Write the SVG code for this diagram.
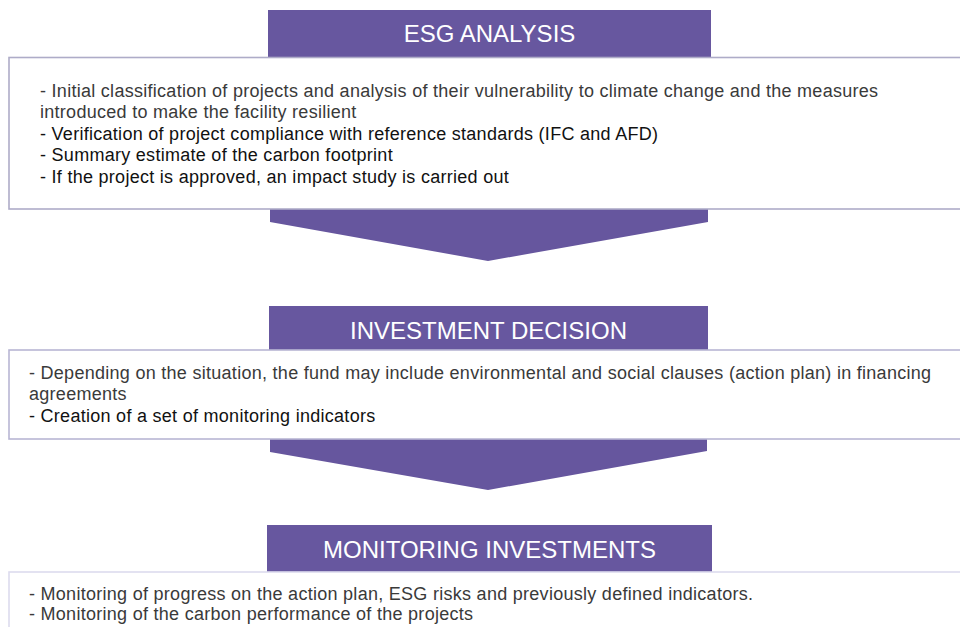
<svg xmlns="http://www.w3.org/2000/svg" width="960" height="627" viewBox="0 0 960 627">
<style>
.hdr{fill:#67579f}
.chev{fill:#66569e}
.title{font-family:"Liberation Sans",Arial,sans-serif;font-size:24px;fill:#ffffff;text-anchor:middle}
.body{font-family:"Liberation Sans",Arial,sans-serif;font-size:18px;letter-spacing:0.28px}
.g{fill:#3a3a3a}
.k{fill:#111111}
</style>
<rect width="960" height="627" fill="#ffffff"/>
<g id="esg-analysis">
  <rect class="hdr" x="268" y="10" width="443" height="48"/>
  <polygon class="chev" points="270,200 708,200 708,222 488,261 270,222"/>
  <rect x="9" y="57.5" width="960" height="151.5" fill="#ffffff" stroke="#aeacc8" stroke-width="1.6"/>
  <text class="title" x="489.5" y="42">ESG ANALYSIS</text>
  <text class="body g" x="40" y="96.5">- Initial classification of projects and analysis of their vulnerability to climate change and the measures</text>
  <text class="body g" x="40" y="118">introduced to make the facility resilient</text>
  <text class="body k" x="40" y="139.5">- Verification of project compliance with reference standards (IFC and AFD)</text>
  <text class="body k" x="40" y="161">- Summary estimate of the carbon footprint</text>
  <text class="body k" x="40" y="182.5">- If the project is approved, an impact study is carried out</text>
</g>
<g id="investment-decision">
  <rect class="hdr" x="269" y="306" width="439" height="45"/>
  <polygon class="chev" points="270,430 707,430 707,451 488,490 270,452"/>
  <rect x="9" y="350" width="960" height="89" fill="#ffffff" stroke="#b8b6d4" stroke-width="1.6"/>
  <text class="title" x="488.5" y="339">INVESTMENT DECISION</text>
  <text class="body g" x="29" y="379">- Depending on the situation, the fund may include environmental and social clauses (action plan) in financing</text>
  <text class="body g" x="29" y="400">agreements</text>
  <text class="body k" x="29" y="421.5">- Creation of a set of monitoring indicators</text>
</g>
<g id="monitoring-investments">
  <rect class="hdr" x="267" y="525" width="445" height="47"/>
  <rect x="9" y="572" width="960" height="80" fill="#ffffff" stroke="#dddbee" stroke-width="1.6"/>
  <text class="title" x="489.5" y="558">MONITORING INVESTMENTS</text>
  <text class="body g" x="29" y="600">- Monitoring of progress on the action plan, ESG risks and previously defined indicators.</text>
  <text class="body g" x="29" y="619.5">- Monitoring of the carbon performance of the projects</text>
</g>
<g id="connectors"></g>
</svg>
